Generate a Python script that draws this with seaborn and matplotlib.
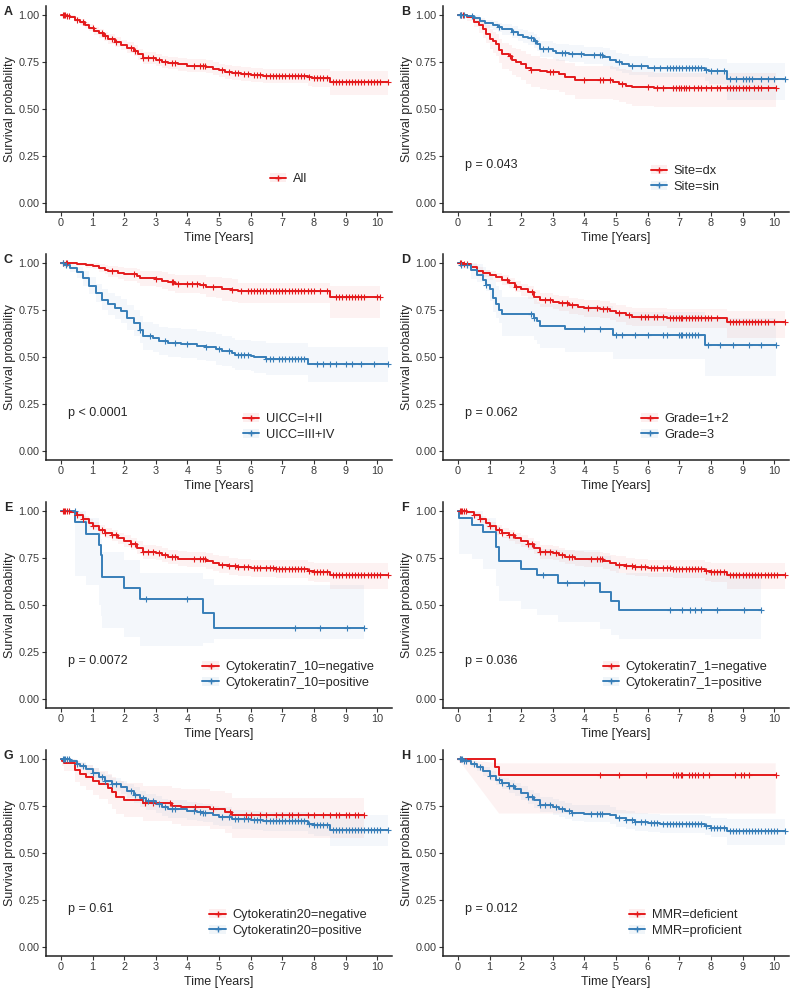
import numpy as np
import matplotlib
matplotlib.use('Agg')
import matplotlib.pyplot as plt
import seaborn as sns
from matplotlib.lines import Line2D
from matplotlib.patches import Patch

sns.set_style('ticks')
plt.rcParams['font.family'] = ['Liberation Sans', 'DejaVu Sans']

RED = '#E41A1C'
BLUE = '#377EB8'
nan = np.nan

# ---- A: All ----
A_t = [0, 0.15, 0.3, 0.45, 0.6, 0.75, 0.9, 1.05, 1.2, 1.35, 1.5, 1.7, 1.9, 2.1, 2.3, 2.45, 2.6, 3.0, 3.2, 3.4, 3.7, 4.0, 4.6, 4.8, 5.0, 5.2, 5.4, 5.7, 6.0, 6.4, 7.8, 7.95, 8.5]
A_s = [1.0, 0.995, 0.99, 0.975, 0.962, 0.948, 0.932, 0.917, 0.902, 0.887, 0.872, 0.857, 0.842, 0.826, 0.81, 0.79, 0.772, 0.762, 0.752, 0.745, 0.737, 0.73, 0.724, 0.715, 0.705, 0.697, 0.69, 0.685, 0.68, 0.676, 0.67, 0.665, 0.646]
A_lo = [1.0, 0.99, 0.982, 0.963, 0.947, 0.931, 0.913, 0.896, 0.879, 0.863, 0.847, 0.831, 0.815, 0.798, 0.781, 0.76, 0.741, 0.73, 0.72, 0.712, 0.704, 0.696, 0.689, 0.68, 0.669, 0.661, 0.653, 0.648, 0.642, 0.637, 0.625, 0.619, 0.575]
A_hi = [1.0, 1.0, 0.998, 0.987, 0.977, 0.965, 0.951, 0.938, 0.925, 0.911, 0.897, 0.883, 0.869, 0.854, 0.839, 0.82, 0.803, 0.794, 0.784, 0.778, 0.77, 0.764, 0.759, 0.75, 0.741, 0.733, 0.727, 0.722, 0.718, 0.715, 0.715, 0.711, 0.703]
A_cens = [0.05, 0.1, 0.12, 0.2, 0.25, 0.5, 0.7, 1.0, 1.3, 1.4, 1.6, 1.75, 2.2, 2.35, 2.6, 2.75, 2.9, 3.1, 3.3, 3.5, 3.6, 4.2, 4.4, 4.5, 4.55,
          5.1, 5.3, 5.5, 5.6, 5.8, 5.9, 6.1, 6.2, 6.3, 6.5, 6.6, 6.7, 6.8, 6.9, 7.0, 7.1, 7.2, 7.3, 7.4, 7.5, 7.6, 7.7, 7.85, 8.0,
          8.1, 8.2, 8.3, 8.4, 8.6, 8.7, 8.8, 8.9, 9.0, 9.1, 9.2, 9.3, 9.4, 9.5, 9.6, 9.7, 9.8, 9.9, 10.0, 10.1, 10.35]
A_end = 10.35

# ---- B: Site ----
Bdx_t = [0, 0.3, 0.5, 0.65, 0.8, 0.9, 1.0, 1.1, 1.2, 1.3, 1.4, 1.6, 1.7, 1.85, 2.0, 2.15, 2.3, 2.6, 2.8, 3.2, 3.4, 3.7, 4.9, 5.1, 5.3, 5.5, 6.2]
Bdx_s = [1.0, 0.99, 0.965, 0.945, 0.925, 0.90, 0.875, 0.86, 0.845, 0.815, 0.79, 0.78, 0.76, 0.75, 0.74, 0.72, 0.708, 0.70, 0.695, 0.685, 0.668, 0.652, 0.645, 0.635, 0.625, 0.615, 0.61]
Bdx_lo = [1.0, 0.97, 0.935, 0.905, 0.88, 0.85, 0.82, 0.8, 0.78, 0.745, 0.715, 0.70, 0.68, 0.668, 0.655, 0.632, 0.618, 0.608, 0.602, 0.59, 0.572, 0.555, 0.548, 0.537, 0.525, 0.515, 0.512]
Bdx_hi = [1.0, 1.0, 0.99, 0.98, 0.965, 0.945, 0.925, 0.912, 0.9, 0.875, 0.852, 0.843, 0.825, 0.817, 0.808, 0.79, 0.78, 0.772, 0.768, 0.76, 0.745, 0.73, 0.723, 0.715, 0.706, 0.697, 0.693]
Bdx_cens = [0.1, 0.15, 1.65, 2.3, 2.9, 3.0, 4.0, 4.5, 4.6, 4.8, 5.2, 6.0, 6.3, 6.5, 6.8, 6.9, 7.0, 7.05, 7.15, 7.2, 7.3, 7.45, 7.6,
            7.7, 7.85, 8.0, 8.2, 8.3, 8.5, 8.6, 8.7, 8.8, 8.9, 9.0, 9.1, 9.2, 9.35, 9.5, 9.6, 9.8, 10.05]
Bdx_end = 10.05
Bsin_t = [0, 0.3, 0.5, 0.7, 0.85, 1.1, 1.25, 1.4, 1.7, 1.9, 2.05, 2.2, 2.4, 2.5, 2.6, 3.0, 3.1, 3.5, 4.0, 4.6, 4.8, 5.0, 5.2, 5.4, 6.0, 7.8, 7.95, 8.5]
Bsin_s = [1.0, 0.995, 0.985, 0.968, 0.955, 0.945, 0.935, 0.924, 0.91, 0.895, 0.885, 0.876, 0.86, 0.845, 0.818, 0.81, 0.80, 0.795, 0.785, 0.775, 0.762, 0.748, 0.738, 0.73, 0.72, 0.71, 0.70, 0.66]
Bsin_lo = [1.0, 0.985, 0.97, 0.948, 0.932, 0.92, 0.908, 0.895, 0.878, 0.861, 0.85, 0.84, 0.822, 0.806, 0.777, 0.768, 0.757, 0.751, 0.74, 0.729, 0.715, 0.7, 0.689, 0.68, 0.668, 0.65, 0.635, 0.55]
Bsin_hi = [1.0, 1.0, 0.998, 0.985, 0.975, 0.968, 0.96, 0.952, 0.941, 0.928, 0.92, 0.912, 0.898, 0.884, 0.86, 0.853, 0.845, 0.84, 0.832, 0.824, 0.812, 0.8, 0.79, 0.782, 0.774, 0.77, 0.765, 0.745]
Bsin_cens = [0.05, 0.1, 0.2, 0.45, 1.3, 1.75, 2.3, 2.45, 2.7, 2.85, 3.3, 3.4, 3.6, 3.9, 4.3, 4.5, 4.55, 5.1, 5.5, 5.8, 6.2, 6.4,
             6.6, 6.7, 6.8, 6.9, 7.0, 7.1, 7.2, 7.3, 7.4, 7.5, 7.6, 7.7, 7.85, 8.0, 8.2, 8.4, 8.6, 8.8, 9.0, 9.1, 9.2, 9.3, 9.6,
             9.8, 10.0, 10.35]
Bsin_end = 10.35

# ---- C: UICC ----
Clo_t = [0, 0.5, 0.8, 1.0, 1.2, 1.4, 1.5, 1.8, 2.0, 2.4, 2.5, 3.0, 3.2, 3.4, 3.6, 4.4, 4.6, 4.9, 5.1, 5.4, 5.6, 8.5]
Clo_s = [1.0, 0.995, 0.99, 0.985, 0.975, 0.965, 0.955, 0.945, 0.94, 0.93, 0.92, 0.915, 0.905, 0.898, 0.888, 0.885, 0.875, 0.87, 0.86, 0.855, 0.85, 0.818]
Clo_lo = [1.0, 0.985, 0.975, 0.967, 0.953, 0.94, 0.927, 0.913, 0.906, 0.893, 0.88, 0.873, 0.86, 0.851, 0.838, 0.833, 0.82, 0.813, 0.8, 0.793, 0.785, 0.71]
Clo_hi = [1.0, 1.0, 1.0, 1.0, 0.995, 0.99, 0.983, 0.977, 0.973, 0.966, 0.96, 0.956, 0.95, 0.944, 0.937, 0.935, 0.928, 0.925, 0.918, 0.913, 0.895, 0.876]
Clo_cens = [0.05, 0.15, 0.2, 1.6, 2.3, 3.0, 3.5, 3.55, 3.7, 4.0, 4.15, 4.3, 4.5, 4.8, 5.4, 5.7, 5.9, 6.0, 6.1, 6.2, 6.3, 6.4, 6.5,
            6.6, 6.7, 6.8, 6.9, 7.0, 7.1, 7.2, 7.3, 7.4, 7.5, 7.6, 7.7, 7.8, 7.9, 8.0, 8.2, 8.4, 8.7, 8.8, 8.9, 9.0, 9.1, 9.2,
            9.3, 9.4, 9.5, 9.6, 10.0, 10.1]
Clo_end = 10.1
Chi_t = [0, 0.1, 0.3, 0.5, 0.7, 0.9, 1.1, 1.3, 1.5, 1.7, 1.9, 2.1, 2.3, 2.5, 2.6, 2.9, 3.1, 3.4, 3.8, 4.3, 4.6, 4.9, 5.1, 5.4, 5.5, 6.0, 6.1, 6.5, 7.8]
Chi_s = [1.0, 0.99, 0.975, 0.95, 0.92, 0.88, 0.84, 0.805, 0.78, 0.762, 0.743, 0.71, 0.68, 0.646, 0.61, 0.60, 0.584, 0.575, 0.57, 0.56, 0.555, 0.54, 0.53, 0.52, 0.51, 0.505, 0.50, 0.49, 0.465]
Chi_lo = [1.0, 0.975, 0.952, 0.918, 0.88, 0.835, 0.79, 0.75, 0.722, 0.702, 0.68, 0.645, 0.612, 0.575, 0.537, 0.527, 0.51, 0.5, 0.494, 0.483, 0.477, 0.46, 0.45, 0.44, 0.43, 0.423, 0.417, 0.405, 0.365]
Chi_hi = [1.0, 1.0, 0.995, 0.98, 0.958, 0.925, 0.89, 0.86, 0.84, 0.825, 0.808, 0.778, 0.75, 0.717, 0.685, 0.675, 0.66, 0.652, 0.647, 0.638, 0.633, 0.62, 0.61, 0.6, 0.592, 0.587, 0.583, 0.575, 0.553]
Chi_cens = [0.05, 0.15, 2.5, 2.8, 3.3, 3.6, 4.0, 4.6, 5.0, 5.3, 5.6, 5.7, 5.8, 5.9, 6.5, 6.6, 6.7, 6.9, 7.0, 7.1, 7.2, 7.3, 7.4,
            7.5, 7.6, 7.7, 8.1, 8.3, 8.5, 8.7, 9.0, 9.2, 9.5, 9.9, 10.35]
Chi_end = 10.35

# ---- D: Grade ----
D12_t = [0, 0.2, 0.4, 0.6, 0.8, 1.0, 1.2, 1.4, 1.6, 1.8, 2.0, 2.2, 2.4, 2.6, 3.0, 3.2, 3.5, 3.8, 4.0, 4.5, 4.8, 5.0, 5.3, 5.5, 6.6, 8.5]
D12_s = [1.0, 0.995, 0.98, 0.96, 0.945, 0.935, 0.925, 0.91, 0.894, 0.875, 0.86, 0.845, 0.82, 0.805, 0.795, 0.785, 0.775, 0.767, 0.761, 0.755, 0.745, 0.735, 0.722, 0.715, 0.708, 0.687]
D12_lo = [1.0, 0.985, 0.965, 0.942, 0.924, 0.912, 0.9, 0.883, 0.865, 0.844, 0.827, 0.81, 0.783, 0.766, 0.754, 0.743, 0.731, 0.722, 0.715, 0.708, 0.697, 0.686, 0.671, 0.663, 0.654, 0.60]
D12_hi = [1.0, 1.0, 0.993, 0.977, 0.964, 0.956, 0.948, 0.935, 0.921, 0.904, 0.891, 0.877, 0.855, 0.841, 0.832, 0.823, 0.814, 0.807, 0.802, 0.797, 0.788, 0.779, 0.768, 0.762, 0.757, 0.747]
D12_cens = [0.05, 0.1, 0.2, 0.3, 1.55, 1.85, 2.35, 2.75, 2.9, 3.3, 3.45, 3.6, 4.1, 4.4, 4.6, 4.7, 5.1, 5.4, 5.8, 5.9, 6.0, 6.2,
            6.3, 6.5, 6.7, 6.8, 6.9, 7.0, 7.05, 7.1, 7.2, 7.3, 7.4, 7.5, 7.6, 7.7, 7.8, 7.9, 8.0, 8.2, 8.6, 8.7, 8.8, 8.9, 9.0,
            9.1, 9.2, 9.3, 9.4, 9.5, 9.6, 9.7, 9.8, 10.0, 10.35]
D12_end = 10.35
D3_t = [0, 0.1, 0.4, 0.6, 0.8, 0.9, 1.0, 1.1, 1.2, 1.3, 1.4, 2.4, 2.5, 2.6, 3.4, 4.9, 7.8]
D3_s = [1.0, 0.99, 0.965, 0.938, 0.91, 0.885, 0.86, 0.814, 0.78, 0.752, 0.729, 0.71, 0.69, 0.667, 0.65, 0.616, 0.566]
D3_lo = [1.0, 0.97, 0.915, 0.9, 0.89, 0.85, 0.8, 0.74, 0.71, 0.68, 0.61, 0.59, 0.57, 0.55, 0.525, 0.487, 0.40]
D3_hi = [1.0, 1.0, 1.0, 0.995, 0.98, 0.965, 0.945, 0.91, 0.88, 0.855, 0.82, 0.81, 0.795, 0.78, 0.77, 0.74, 0.71]
D3_cens = [0.1, 0.3, 0.9, 2.3, 2.4, 4.0, 4.5, 5.0, 5.2, 5.6, 6.0, 6.5, 6.6, 7.0, 7.05, 7.1, 7.2, 7.3, 7.4, 7.5, 7.6, 7.9, 8.3,
           8.7, 9.2, 9.6, 10.05]
D3_end = 10.05

# ---- E: Cytokeratin7_10 ----
Eneg_t = [0, 0.3, 0.5, 0.7, 0.9, 1.0, 1.2, 1.4, 1.6, 1.8, 2.0, 2.2, 2.4, 2.6, 3.0, 3.2, 3.4, 3.7, 4.0, 4.6, 4.8, 5.0, 5.3, 5.6, 6.0, 6.8, 7.8, 8.0, 8.5]
Eneg_s = [1.0, 0.995, 0.98, 0.955, 0.935, 0.92, 0.90, 0.885, 0.87, 0.855, 0.84, 0.825, 0.805, 0.782, 0.775, 0.765, 0.755, 0.745, 0.743, 0.735, 0.725, 0.715, 0.705, 0.70, 0.695, 0.69, 0.68, 0.675, 0.66]
Eneg_lo = [1.0, 0.985, 0.965, 0.937, 0.914, 0.897, 0.875, 0.858, 0.842, 0.825, 0.808, 0.792, 0.77, 0.746, 0.738, 0.727, 0.716, 0.705, 0.702, 0.693, 0.682, 0.671, 0.66, 0.654, 0.648, 0.642, 0.63, 0.624, 0.585]
Eneg_hi = [1.0, 1.0, 0.995, 0.973, 0.956, 0.943, 0.925, 0.912, 0.898, 0.885, 0.872, 0.858, 0.84, 0.818, 0.812, 0.803, 0.794, 0.785, 0.784, 0.777, 0.768, 0.759, 0.75, 0.746, 0.742, 0.738, 0.73, 0.726, 0.725]
Eneg_end = 10.35
Epos_t = [0, 0.45, 0.8, 1.2, 1.25, 1.3, 2.0, 2.5, 4.5, 4.85]
Epos_s = [1.0, 0.94, 0.88, 0.82, 0.765, 0.647, 0.588, 0.53, 0.455, 0.38]
Epos_lo = [nan, 0.655, 0.605, 0.5, 0.44, 0.38, 0.33, 0.28, 0.30, 0.32]
Epos_hi = [nan, 1.0, 0.965, 0.9, 0.85, 0.78, 0.74, 0.67, 0.64, 0.605]
Epos_cens = [0.43, 2.7, 4.0, 7.4, 8.2, 9.05, 9.6]
Epos_end = 9.6

# ---- F: Cytokeratin7_1 ----
Fpos_t = [0, 0.02, 0.45, 0.8, 1.2, 1.3, 2.0, 2.5, 3.15, 4.5, 4.85, 5.1]
Fpos_s = [1.0, 0.963, 0.926, 0.888, 0.81, 0.734, 0.694, 0.658, 0.617, 0.568, 0.522, 0.476]
Fpos_lo = [1.0, 0.77, 0.743, 0.694, 0.6, 0.52, 0.48, 0.446, 0.407, 0.37, 0.34, 0.32]
Fpos_hi = [1.0, 1.0, 1.0, 0.965, 0.92, 0.86, 0.83, 0.80, 0.79, 0.76, 0.72, 0.67]
Fpos_cens = [2.7, 3.45, 4.0, 6.7, 7.1, 7.35, 7.5, 7.7, 8.2, 9.05, 9.6]
Fpos_end = 9.6

# ---- G: Cytokeratin20 ----
Gneg_t = [0, 0.03, 0.1, 0.45, 0.6, 0.8, 1.0, 1.2, 1.5, 1.6, 1.75, 2.0, 2.6, 3.5, 3.8, 4.7, 5.2, 5.4]
Gneg_s = [1.0, 0.99, 0.977, 0.94, 0.92, 0.905, 0.885, 0.865, 0.845, 0.823, 0.80, 0.782, 0.765, 0.752, 0.745, 0.735, 0.72, 0.70]
Gneg_lo = [1.0, 0.965, 0.935, 0.88, 0.855, 0.835, 0.81, 0.785, 0.76, 0.735, 0.71, 0.69, 0.67, 0.655, 0.645, 0.63, 0.605, 0.58]
Gneg_hi = [1.0, 1.0, 1.0, 0.99, 0.978, 0.967, 0.952, 0.937, 0.92, 0.905, 0.885, 0.87, 0.855, 0.845, 0.84, 0.832, 0.82, 0.795]
Gneg_cens = [2.65, 2.9, 3.45, 4.25, 4.8, 5.35, 5.85, 6.0, 6.3, 6.5, 6.8, 7.0, 7.2, 7.3, 7.5, 7.8, 8.0, 8.3, 8.5, 8.7,
             8.8, 9.0, 9.1, 9.3, 9.4, 9.6]
Gneg_end = 9.6
Gpos_t = [0, 0.3, 0.5, 0.6, 0.8, 1.0, 1.2, 1.4, 1.6, 1.9, 2.1, 2.3, 2.5, 2.7, 3.0, 3.2, 3.4, 4.0, 4.3, 4.5, 4.8, 5.0, 5.4, 6.0, 6.4, 7.8, 8.0, 8.5]
Gpos_s = [1.0, 0.99, 0.975, 0.965, 0.945, 0.925, 0.905, 0.885, 0.865, 0.85, 0.83, 0.81, 0.79, 0.775, 0.76, 0.745, 0.735, 0.725, 0.72, 0.715, 0.70, 0.694, 0.68, 0.675, 0.669, 0.655, 0.648, 0.623]
Gpos_lo = [1.0, 0.98, 0.958, 0.945, 0.92, 0.897, 0.874, 0.851, 0.829, 0.812, 0.79, 0.768, 0.747, 0.731, 0.715, 0.699, 0.688, 0.677, 0.671, 0.665, 0.65, 0.643, 0.628, 0.622, 0.615, 0.599, 0.591, 0.535]
Gpos_hi = [1.0, 1.0, 0.99, 0.983, 0.967, 0.95, 0.933, 0.915, 0.898, 0.885, 0.867, 0.849, 0.83, 0.816, 0.803, 0.789, 0.78, 0.77, 0.766, 0.762, 0.748, 0.743, 0.73, 0.726, 0.72, 0.708, 0.702, 0.70]
Gpos_end = 10.35

# ---- H: MMR ----
Hdef_t = [0, 1.18, 1.3]
Hdef_s = [1.0, 0.958, 0.917]
Hdef_lo = [1.0, nan, 0.71]
Hdef_hi = [1.0, nan, 0.977]
Hdef_cens = [0.05, 4.5, 5.1, 5.95, 6.8, 6.9, 6.95, 7.05, 7.1, 7.3, 7.4, 7.5, 7.6, 7.75, 7.95, 8.75, 8.95, 9.05, 9.2, 10.05]
Hdef_end = 10.05
Hpro_t = [0, 0.2, 0.4, 0.6, 0.8, 1.0, 1.2, 1.4, 1.6, 1.8, 2.0, 2.2, 2.4, 2.6, 3.0, 3.2, 3.4, 3.6, 4.0, 4.8, 5.0, 5.3, 5.6, 6.0, 6.4, 7.8, 8.0, 8.5]
Hpro_s = [1.0, 0.99, 0.975, 0.955, 0.935, 0.912, 0.89, 0.872, 0.855, 0.838, 0.82, 0.80, 0.78, 0.757, 0.745, 0.735, 0.725, 0.715, 0.71, 0.70, 0.685, 0.675, 0.665, 0.66, 0.655, 0.645, 0.635, 0.617]
Hpro_lo = [1.0, 0.98, 0.959, 0.935, 0.911, 0.885, 0.86, 0.84, 0.821, 0.802, 0.783, 0.762, 0.741, 0.717, 0.704, 0.693, 0.683, 0.672, 0.666, 0.655, 0.639, 0.629, 0.618, 0.613, 0.607, 0.595, 0.584, 0.54]
Hpro_hi = [1.0, 1.0, 0.99, 0.973, 0.956, 0.936, 0.917, 0.901, 0.886, 0.871, 0.855, 0.837, 0.818, 0.797, 0.786, 0.777, 0.767, 0.758, 0.754, 0.745, 0.731, 0.722, 0.712, 0.708, 0.703, 0.695, 0.686, 0.68]
Hpro_end = 10.35

panels = [
    ('A', None, [('All', RED, A_t, A_s, A_lo, A_hi, A_cens, A_end)]),
    ('B', 'p = 0.043', [('Site=dx', RED, Bdx_t, Bdx_s, Bdx_lo, Bdx_hi, Bdx_cens, Bdx_end),
                        ('Site=sin', BLUE, Bsin_t, Bsin_s, Bsin_lo, Bsin_hi, Bsin_cens, Bsin_end)]),
    ('C', 'p < 0.0001', [('UICC=I+II', RED, Clo_t, Clo_s, Clo_lo, Clo_hi, Clo_cens, Clo_end),
                         ('UICC=III+IV', BLUE, Chi_t, Chi_s, Chi_lo, Chi_hi, Chi_cens, Chi_end)]),
    ('D', 'p = 0.062', [('Grade=1+2', RED, D12_t, D12_s, D12_lo, D12_hi, D12_cens, D12_end),
                        ('Grade=3', BLUE, D3_t, D3_s, D3_lo, D3_hi, D3_cens, D3_end)]),
    ('E', 'p = 0.0072', [('Cytokeratin7_10=negative', RED, Eneg_t, Eneg_s, Eneg_lo, Eneg_hi, A_cens, Eneg_end),
                         ('Cytokeratin7_10=positive', BLUE, Epos_t, Epos_s, Epos_lo, Epos_hi, Epos_cens, Epos_end)]),
    ('F', 'p = 0.036', [('Cytokeratin7_1=negative', RED, Eneg_t, Eneg_s, Eneg_lo, Eneg_hi, A_cens, Eneg_end),
                        ('Cytokeratin7_1=positive', BLUE, Fpos_t, Fpos_s, Fpos_lo, Fpos_hi, Fpos_cens, Fpos_end)]),
    ('G', 'p = 0.61', [('Cytokeratin20=negative', RED, Gneg_t, Gneg_s, Gneg_lo, Gneg_hi, Gneg_cens, Gneg_end),
                       ('Cytokeratin20=positive', BLUE, Gpos_t, Gpos_s, Gpos_lo, Gpos_hi, A_cens, Gpos_end)]),
    ('H', 'p = 0.012', [('MMR=deficient', RED, Hdef_t, Hdef_s, Hdef_lo, Hdef_hi, Hdef_cens, Hdef_end),
                        ('MMR=proficient', BLUE, Hpro_t, Hpro_s, Hpro_lo, Hpro_hi, A_cens, Hpro_end)]),
]


def step_vertices(t, v, end):
    # step outline of a CI bound; NaN entries are bridged with a straight line
    xs, ys = [], []
    n = len(t)
    for i in range(n):
        if np.isnan(v[i]):
            continue
        xs.append(t[i])
        ys.append(v[i])
        if i + 1 == n or not np.isnan(v[i + 1]):
            xs.append(t[i + 1] if i + 1 < n else end)
            ys.append(v[i])
    return np.array(xs), np.array(ys)


W, H = 794, 992
fig = plt.figure(figsize=(W / 100, H / 100), dpi=100)

for k, (letter, ptxt, curves) in enumerate(panels):
    r, c = divmod(k, 2)
    ax = fig.add_axes([(c * 397 + 46) / W, 1 - (r * 248 + 212) / H, 346 / W, 206 / H])
    handles, labels = [], []
    for name, col, t, s, lo, hi, cens, end in curves:
        t = np.array(t, float)
        s = np.array(s, float)
        lo = np.array(lo, float)
        hi = np.array(hi, float)
        # confidence ribbon
        xl, yl = step_vertices(t, lo, end)
        xh, yh = step_vertices(t, hi, end)
        ax.fill(np.r_[xl, xh[::-1]], np.r_[yl, yh[::-1]], color=col, alpha=0.055, lw=0)
        # KM step curve
        sns.lineplot(x=np.r_[t, end], y=np.r_[s, s[-1]], drawstyle='steps-post', color=col,
                     lw=1.4, ax=ax, estimator=None, sort=False)
        # censor marks
        cens = np.array([x for x in cens if x <= end])
        cy = s[np.searchsorted(t, cens, side='right') - 1]
        sns.scatterplot(x=cens, y=cy, marker='+', s=18, color=col, linewidth=0.8, ax=ax, zorder=3)
        handles.append((Patch(facecolor=col, alpha=0.07, edgecolor='none'),
                        Line2D([], [], color=col, lw=1.4, marker='+', ms=5, mew=1)))
        labels.append(name)

    ax.set_xlim(-0.475, 10.47)
    ax.set_ylim(-0.048, 1.048)
    ax.set_xticks(range(0, 11))
    ax.set_yticks([0, 0.25, 0.5, 0.75, 1.0])
    ax.set_yticklabels(['0.00', '0.25', '0.50', '0.75', '1.00'])
    ax.tick_params(length=3, width=0.8, pad=1.5, labelsize=7.8, color='#333333', labelcolor='#3A3A3A')
    for sp in ['left', 'bottom']:
        ax.spines[sp].set_color('#222222')
        ax.spines[sp].set_linewidth(1.1)
    sns.despine(ax=ax)
    ax.set_xlabel('Time [Years]', fontsize=9)
    ax.set_ylabel('Survival probability', fontsize=9)
    ax.xaxis.set_label_coords(0.5, -0.095)
    ax.yaxis.set_label_coords(-0.088, 0.5)
    if ptxt:
        ax.text(0.22, 0.2, ptxt, fontsize=9, ha='left', va='center')
    ax.legend(handles, labels, loc='center', bbox_to_anchor=(0.70, 0.16), frameon=False, fontsize=9.2,
              handlelength=1.3, handletextpad=0.5, labelspacing=0.3, borderaxespad=0, borderpad=0)
    fig.text((c * 397 + 4) / W, 1 - (r * 248 + 6) / H, letter, fontsize=9, fontweight='bold', ha='left', va='top')

fig.savefig('out.png', dpi=100)
